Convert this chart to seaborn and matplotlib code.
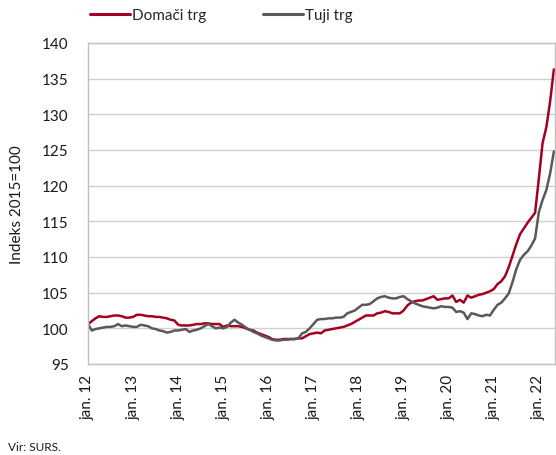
import matplotlib
matplotlib.use("Agg")
import matplotlib.pyplot as plt
import seaborn as sns
import pandas as pd
import numpy as np
from matplotlib.lines import Line2D

# Monthly index values, jan. 2012 - maj 2022
domaci = [
    100.6, 101.0, 101.4, 101.7, 101.6, 101.6, 101.7, 101.8, 101.8, 101.7, 101.5, 101.5,  # 2012
    101.6, 101.9, 101.9, 101.8, 101.7, 101.7, 101.6, 101.6, 101.5, 101.4, 101.2, 101.1,  # 2013
    100.5, 100.4, 100.4, 100.4, 100.5, 100.6, 100.6, 100.7, 100.7, 100.6, 100.6, 100.6,  # 2014
    100.2, 100.4, 100.3, 100.3, 100.3, 100.2, 100.0, 99.8, 99.7, 99.4, 99.2, 99.0,        # 2015
    98.8, 98.5, 98.4, 98.4, 98.5, 98.5, 98.5, 98.5, 98.6, 98.6, 98.9, 99.2,              # 2016
    99.3, 99.4, 99.3, 99.7, 99.8, 99.9, 100.0, 100.1, 100.2, 100.4, 100.6, 100.9,        # 2017
    101.2, 101.5, 101.8, 101.8, 101.8, 102.1, 102.2, 102.4, 102.3, 102.1, 102.1, 102.1,  # 2018
    102.5, 103.2, 103.6, 103.8, 103.9, 103.9, 104.1, 104.3, 104.5, 104.0, 104.1, 104.2,  # 2019
    104.2, 104.6, 103.7, 104.0, 103.6, 104.6, 104.3, 104.5, 104.7, 104.8, 105.0, 105.2,  # 2020
    105.5, 106.2, 106.6, 107.3, 108.6, 110.2, 111.8, 113.2, 114.0, 114.8, 115.5, 116.2,  # 2021
    121.0, 126.0, 128.2, 131.8, 136.3,                                                   # 2022
]
tuji = [
    100.6, 99.7, 99.9, 100.0, 100.1, 100.2, 100.2, 100.3, 100.6, 100.3, 100.4, 100.3,    # 2012
    100.2, 100.2, 100.5, 100.4, 100.3, 100.0, 99.9, 99.7, 99.6, 99.4, 99.5, 99.7,        # 2013
    99.7, 99.8, 99.9, 99.5, 99.7, 99.8, 100.0, 100.3, 100.6, 100.3, 100.0, 100.1,        # 2014
    100.0, 100.2, 100.8, 101.2, 100.8, 100.5, 100.1, 99.8, 99.5, 99.3, 99.0, 98.8,       # 2015
    98.6, 98.4, 98.3, 98.3, 98.4, 98.4, 98.5, 98.5, 98.6, 99.3, 99.5, 100.0,             # 2016
    100.6, 101.2, 101.3, 101.3, 101.4, 101.4, 101.5, 101.5, 101.6, 102.1, 102.3, 102.5,  # 2017
    102.9, 103.3, 103.3, 103.4, 103.8, 104.2, 104.4, 104.5, 104.3, 104.2, 104.2, 104.4,  # 2018
    104.5, 104.1, 103.8, 103.5, 103.3, 103.1, 103.0, 102.9, 102.8, 102.9, 103.1, 103.0,  # 2019
    103.0, 102.9, 102.3, 102.4, 102.2, 101.3, 102.1, 102.0, 101.8, 101.7, 101.9, 101.8,  # 2020
    102.6, 103.3, 103.6, 104.2, 104.9, 106.5, 108.3, 109.6, 110.3, 110.8, 111.6, 112.6,  # 2021
    116.3, 118.0, 119.4, 121.7, 124.8,                                                   # 2022
]
series_names = ["Domači trg", "Tuji trg"]
colors = ["#a50021", "#595959"]
tick_labels = ["jan. 12", "jan. 13", "jan. 14", "jan. 15", "jan. 16", "jan. 17",
               "jan. 18", "jan. 19", "jan. 20", "jan. 21", "jan. 22"]
y_ticks = [95, 100, 105, 110, 115, 120, 125, 130, 135, 140]

sns.set_theme(style="white")
plt.rcParams["font.family"] = ["Lato", "DejaVu Sans"]

months = np.arange(len(domaci))
df = pd.DataFrame({
    "mesec": np.concatenate([months, months]),
    "vrednost": domaci + tuji,
    "serija": [series_names[0]] * len(domaci) + [series_names[1]] * len(tuji),
})

fig = plt.figure(figsize=(5.56, 4.56), dpi=100)
ax = fig.add_axes([88 / 556, 91 / 456, (555 - 88) / 556, (365 - 44) / 456])

sns.lineplot(data=df, x="mesec", y="vrednost", hue="serija",
             palette=dict(zip(series_names, colors)), linewidth=1.8,
             ax=ax, legend=False)

ax.set_xlim(0, len(domaci) - 1 + 0.3)
ax.set_ylim(95, 140)
ax.set_yticks(y_ticks)
ax.set_yticklabels([str(v) for v in y_ticks], fontsize=11, color="#1a1a1a")
ax.set_xticks(np.arange(0, len(tick_labels) * 12, 12))
ax.set_xticklabels(tick_labels, rotation=90, fontsize=11, color="#1a1a1a")
ax.tick_params(axis="y", length=0, pad=14)
ax.tick_params(axis="x", length=0, pad=7)
ax.grid(axis="y", color="#d0d0d0", linewidth=1.0)
ax.grid(axis="x", visible=False)
for s in ax.spines.values():
    s.set_color("#c0c0c0")
    s.set_linewidth(1.0)
ax.set_xlabel("")
ax.set_ylabel("Indeks 2015=100", fontsize=11, color="#1a1a1a", labelpad=13)

handles = [Line2D([0], [0], color=c, linewidth=2.2) for c in colors]
fig.legend(handles, series_names, loc="center left", bbox_to_anchor=(84 / 556, 1 - 16 / 456),
           ncol=2, frameon=False, fontsize=11, handlelength=2.6, handletextpad=0.15,
           columnspacing=3.7, borderaxespad=0)

fig.text(8 / 556, 1 - 448 / 456, "Vir: SURS.", fontsize=8.5, color="#1a1a1a", va="center")

fig.savefig("out.png", dpi=100)
